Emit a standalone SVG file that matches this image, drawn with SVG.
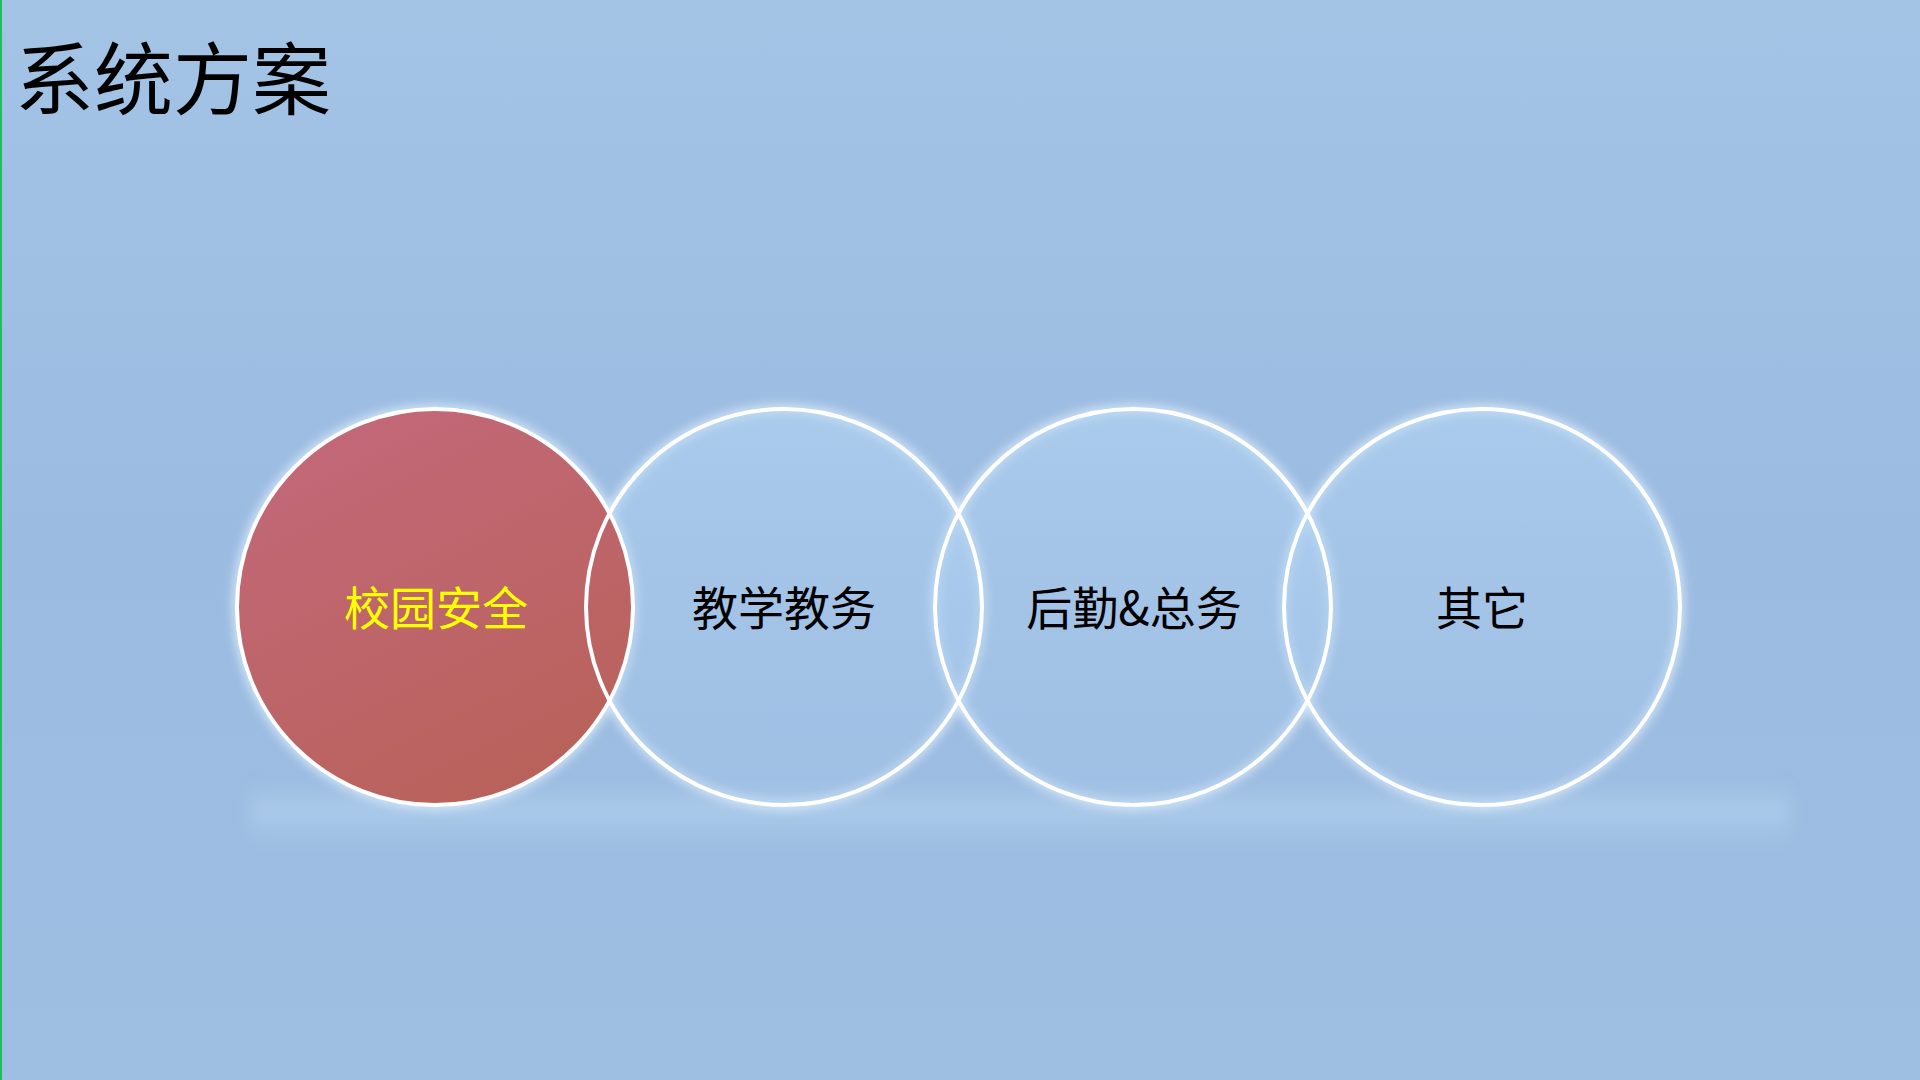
<svg xmlns="http://www.w3.org/2000/svg" width="1920" height="1080" viewBox="0 0 1920 1080">
<defs>
<linearGradient id="bg" x1="0" y1="0" x2="0" y2="1">
<stop offset="0" stop-color="#a3c4e5"/>
<stop offset="0.5" stop-color="#9bbbe1"/>
<stop offset="1" stop-color="#9ebee2"/>
</linearGradient>
<linearGradient id="red" x1="0.2" y1="0" x2="0.7" y2="1">
<stop offset="0" stop-color="#c3687a"/>
<stop offset="1" stop-color="#b8625a"/>
</linearGradient>
<linearGradient id="blue" x1="0" y1="0" x2="0" y2="1">
<stop offset="0" stop-color="#b4d6f4" stop-opacity="0.55"/>
<stop offset="1" stop-color="#a4c4e8" stop-opacity="0.35"/>
</linearGradient>
<linearGradient id="band" x1="0" y1="0" x2="0" y2="1">
<stop offset="0" stop-color="#c8e6fa" stop-opacity="0"/>
<stop offset="0.4" stop-color="#c8e6fa" stop-opacity="0.35"/>
<stop offset="1" stop-color="#c8e6fa" stop-opacity="0"/>
</linearGradient>
<filter id="glow" x="-10%" y="-10%" width="120%" height="120%">
<feGaussianBlur stdDeviation="5"/>
</filter>
<filter id="soft" x="-5%" y="-50%" width="110%" height="200%">
<feGaussianBlur stdDeviation="8"/>
</filter>
</defs>
<style>
.ring{fill:none;stroke:#ffffff;stroke-width:4}
.halo{fill:none;stroke:#e6f4ff;stroke-width:10;opacity:0.7}
.lbl{font-family:"Noto Sans CJK SC","Noto Sans",sans-serif;font-size:46px;text-anchor:middle;dominant-baseline:central}
</style>
<rect x="0" y="0" width="1920" height="1080" fill="url(#bg)"/>
<rect x="0" y="0" width="2" height="1080" fill="#1fbf5a"/>
<rect x="250" y="785" width="1540" height="60" fill="url(#band)" filter="url(#soft)"/>
<text x="15" y="109" font-family="'Noto Sans CJK SC','Noto Sans',sans-serif" font-size="79" fill="#000000">系统方案</text>
<g id="glows" filter="url(#glow)">
<circle class="halo" cx="435" cy="607" r="198"/>
<circle class="halo" cx="784" cy="607" r="198"/>
<circle class="halo" cx="1133" cy="607" r="198"/>
<circle class="halo" cx="1482" cy="607" r="198"/>
</g>
<g id="node2">
<circle cx="784" cy="607" r="198" fill="url(#blue)"/>
<text class="lbl" x="784" y="605" fill="#000000">教学教务</text>
</g>
<g id="node3">
<circle cx="1133" cy="607" r="198" fill="url(#blue)"/>
<text class="lbl" x="1134" y="605" fill="#000000">后勤&amp;总务</text>
</g>
<g id="node4">
<circle cx="1482" cy="607" r="198" fill="url(#blue)"/>
<text class="lbl" x="1482" y="605" fill="#000000">其它</text>
</g>
<g id="node1">
<circle cx="435" cy="607" r="198" fill="url(#red)"/>
<text class="lbl" x="436" y="605" fill="#ffff00">校园安全</text>
</g>
<g id="outlines">
<circle class="ring" cx="435" cy="607" r="198"/>
<circle class="ring" cx="784" cy="607" r="198"/>
<circle class="ring" cx="1133" cy="607" r="198"/>
<circle class="ring" cx="1482" cy="607" r="198"/>
</g>
<g id="connectors"/>
</svg>
